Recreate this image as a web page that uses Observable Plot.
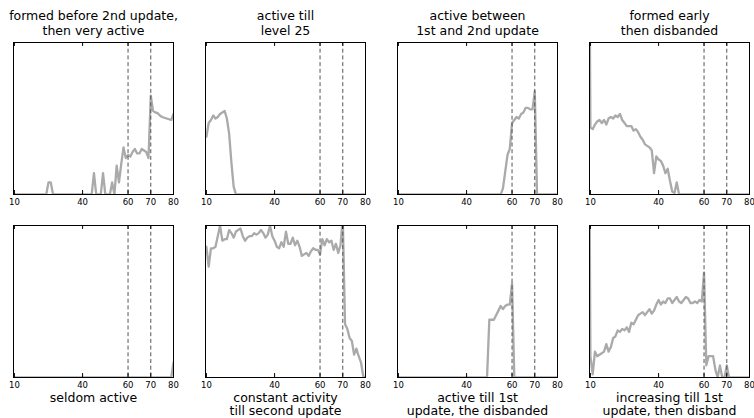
<!DOCTYPE html>
<html>
<head>
<meta charset="utf-8">
<script src="https://cdn.jsdelivr.net/npm/d3@7"></script>
<script src="https://cdn.jsdelivr.net/npm/@observablehq/plot@0.6"></script>
<style>
  html, body { margin: 0; padding: 0; background: white; }
</style>
</head>
<body>
<div id="chart"></div>
<script>
// x positions: levels 9..80 (index 0 = level 9, drawn just left of the frame)
const levels = d3.range(9, 81);
const xTicks = [10, 40, 60, 70, 80];
const updates = [60, 70];

// normalized activity per panel (fraction of panel height), index 0 = level 9
const formedBefore2nd = [null,
  0,0,0,0,0,0,0,0,0,0,
  0,0,0,0,0,0.08,0.08,0,0,0,
  0,0,0,0,0,0,0,0,0,0,
  0,0,0,0,0,0.14,0,0,0,0.14,
  0,0,0,0.08,0,0.19,0.08,0.2,0.31,0.24,
  0.26,0.25,0.28,0.3,0.27,0.27,0.3,0.29,0.28,0.24,
  0.65,0.55,0.54,0.535,0.52,0.51,0.505,0.5,0.495,0.49,
  0.53];
const activeTill25 = [null,
  0.38,0.47,0.49,0.52,0.5,0.51,0.53,0.54,0.55,0.5,
  0.4,0.21,0.05,0,0,0,0,0,0,0,
  0,0,0,0,0,0,0,0,0,0,
  0,0,0,0,0,0,0,0,0,0,
  0,0,0,0,0,0,0,0,0,0,
  0,0,0,0,0,0,0,0,0,0,
  0,0,0,0,0,0,0,0,0,0,
  0];
const activeBetween = [null,
  0,0,0,0,0,0,0,0,0,0,
  0,0,0,0,0,0,0,0,0,0,
  0,0,0,0,0,0,0,0,0,0,
  0,0,0,0,0,0,0,0,0,0,
  0,0,0,0,0,0,0.04,0.15,0.26,0.3,
  0.47,0.49,0.51,0.5,0.53,0.54,0.57,0.57,0.56,0.56,
  0.68,0,0,0,0,0,0,0,0,0,
  0];
const formedEarly = [3,
  0.44,0.43,0.46,0.48,0.49,0.47,0.49,0.46,0.5,0.51,
  0.5,0.52,0.51,0.53,0.49,0.47,0.45,0.45,0.45,0.42,
  0.43,0.41,0.38,0.36,0.33,0.32,0.31,0.29,0.14,0.25,
  0.23,0.22,0.19,0.14,0.17,0.09,0.02,0.01,0.08,0,
  0,0,0,0,0,0,0,0,0,0,
  0,0,0,0,0,0,0,0,0,0,
  0,0,0,0,0,0,0,0,0,0,
  0];
const seldomActive = [null,
  0,0,0,0,0,0,0,0,0,0,
  0,0,0,0,0,0,0,0,0,0,
  0,0,0,0,0,0,0,0,0,0,
  0,0,0,0,0,0,0,0,0,0,
  0,0,0,0,0,0,0,0,0,0,
  0,0,0,0,0,0,0,0,0,0,
  0,0,0,0,0,0,0,0,0,0,
  0.1];
const constantActivity = [null,
  0.86,0.73,0.85,0.85,0.86,0.93,1.0,0.9,0.91,0.91,
  0.97,0.95,0.92,0.96,0.97,0.98,0.93,0.9,0.92,0.93,
  0.93,0.95,0.94,0.95,0.97,0.95,0.92,0.94,1.0,0.93,
  0.9,0.86,0.85,0.89,0.86,0.96,0.88,0.88,0.92,0.87,
  0.9,0.86,0.8,0.81,0.82,0.8,0.83,0.85,0.84,0.84,
  0.81,0.91,0.87,0.91,0.89,0.9,0.84,0.88,0.82,0.87,
  1.05,0.35,0.32,0.26,0.24,0.15,0.19,0.14,0.1,0.01,
  0];
const activeTill1st = [null,
  0,0,0,0,0,0,0,0,0,0,
  0,0,0,0,0,0,0,0,0,0,
  0,0,0,0,0,0,0,0,0,0,
  0,0,0,0,0,0,0,0,0,0,
  0.38,0.38,0.38,0.41,0.44,0.47,0.45,0.47,0.48,0.48,
  0.62,0,0,0,0,0,0,0,0,0,
  0,0,0,0,0,0,0,0,0,0,
  0];
const increasingTill1st = [3,
  0.14,0.02,0.17,0.14,0.15,0.16,0.17,0.22,0.17,0.2,
  0.26,0.27,0.31,0.3,0.32,0.31,0.33,0.3,0.36,0.35,
  0.38,0.41,0.42,0.43,0.41,0.43,0.45,0.42,0.44,0.48,
  0.51,0.48,0.5,0.49,0.52,0.52,0.49,0.51,0.53,0.5,
  0.49,0.51,0.53,0.52,0.49,0.49,0.5,0.49,0.51,0.5,
  0.69,0.08,0.14,0.14,0.14,0.05,0,0.08,0,0,
  0.08,0,0,0,0,0,0,0,0,0,
  0];

const titles = [
  "formed before 2nd update,\nthen very active",
  "active till\nlevel 25",
  "active between\n1st and 2nd update",
  "formed early\nthen disbanded",
  "seldom active",
  "constant activity\ntill second update",
  "active till 1st\nupdate, the disbanded",
  "increasing till 1st\nupdate, then disband"
];
const series = [formedBefore2nd, activeTill25, activeBetween, formedEarly,
                seldomActive, constantActivity, activeTill1st, increasingTill1st];

const panels = titles.map((title, i) => ({title, row: Math.floor(i / 4), col: i % 4, values: series[i]}));
const rows = panels.flatMap(p => levels.map((level, i) => ({panel: p.title, row: p.row, col: p.col, level, value: p.values[i]})));

const chart = Plot.plot({
  width: 754,
  height: 418,
  marginTop: 41,
  marginBottom: 41,
  marginLeft: 12,
  marginRight: 4,
  style: {fontFamily: "DejaVu Sans", background: "white", color: "black", overflow: "visible"},
  x: {domain: [9.6, 80]},
  y: {domain: [0, 1], axis: null},
  fx: {domain: [0, 1, 2, 3], paddingInner: 0.169, paddingOuter: 0, axis: null},
  fy: {domain: [0, 1], paddingInner: 0.172, paddingOuter: 0, axis: null},
  marks: [
    Plot.line(rows, {x: "level", y: "value", z: "panel", fx: "col", fy: "row",
      stroke: "#aaaaaa", strokeWidth: 2.3, clip: true}),
    Plot.ruleX(updates, {stroke: "#555555", strokeWidth: 1, strokeDasharray: "4,2.7"}),
    Plot.frame({stroke: "black", strokeWidth: 1}),
    Plot.ruleX(xTicks, {x: d => d, y1: 0, y2: 0.026, stroke: "black"}),
    Plot.ruleX(xTicks, {x: d => d, y1: 1, y2: 0.974, stroke: "black"}),
    Plot.axisX({ticks: xTicks, tickSize: 0, tickPadding: 4, fontSize: 8.5,
      label: null, facetAnchor: null, anchor: "bottom"}),
    Plot.text(panels.filter(p => p.row === 0), {fx: "col", fy: "row", text: "title",
      frameAnchor: "top", lineAnchor: "bottom", dy: -7.7, fontSize: 12.5, lineHeight: 1.16}),
    Plot.text(panels.filter(p => p.row === 1), {fx: "col", fy: "row", text: "title",
      frameAnchor: "bottom", lineAnchor: "top", dy: 14.3, fontSize: 12.5, lineHeight: 1.1})
  ]
});
document.getElementById("chart").appendChild(chart);
</script>
</body>
</html>
